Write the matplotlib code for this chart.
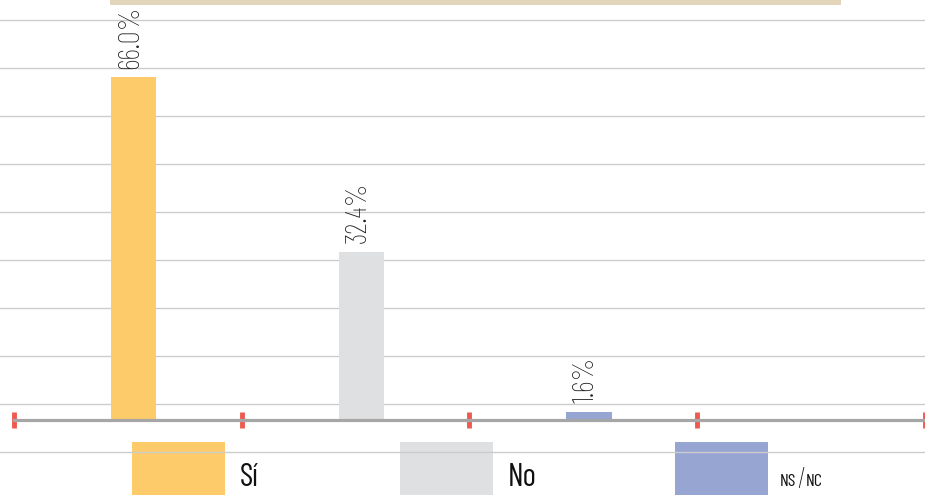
import matplotlib
matplotlib.use("Agg")
import matplotlib.pyplot as plt
from matplotlib.patches import Rectangle

categories = ["Sí", "No", "NS/NC"]
values = [66.0, 32.4, 1.6]
labels = ["66.0%", "32.4%", "1.6%"]
colors = ["#FDCB6A", "#DFE0E2", "#97A5D3"]

plt.rcParams['font.family'] = ['Barlow Condensed', 'DejaVu Sans']

W, H = 925, 495
fig = plt.figure(figsize=(W / 100, H / 100), dpi=100)

# background layer in pixel coordinates
bg = fig.add_axes([0, 0, 1, 1], zorder=0)
bg.set_xlim(0, W)
bg.set_ylim(H, 0)
bg.axis('off')
bg.add_patch(Rectangle((110, 0), 731, 5, color="#E2D5B9", lw=0))
for gy in [20, 68, 116, 164, 212, 260, 308, 356, 404, 452]:
    bg.axhline(gy, color="#CCCCCC", lw=1.0)

# legend drawn in pixel layer
leg_x = [132, 400, 675]
for i, cat in enumerate(categories):
    bg.add_patch(Rectangle((leg_x[i], 442), 93, 60, color=colors[i], lw=0))
    if cat == "NS/NC":
        a, b = cat.split("/")
        bg.text(leg_x[i] + 105, 486, a, fontsize=13, va='baseline', ha='left', color="#111111")
        bg.text(leg_x[i] + 122, 488, "/", fontsize=21, fontweight='light', va='baseline', ha='left', color="#111111")
        bg.text(leg_x[i] + 131, 486, b, fontsize=13, va='baseline', ha='left', color="#111111")
    else:
        bg.text(leg_x[i] + 108, 486, cat, fontsize=23, va='baseline', ha='left', color="#111111")

# main chart
ax = fig.add_axes([0, 0, 1, 1], zorder=1)
ax.patch.set_alpha(0)
px_per_unit = 343 / 66.0
base_px = 420
ax.set_ylim(-(H - base_px) / px_per_unit, base_px / px_per_unit)
band = 228
ax.set_xlim(-0.5 - 14 / band, 3.5)

xpos = [i + 0.025 for i in range(len(categories))]
bars = ax.bar(xpos, values, width=0.2, color=colors, zorder=2)
for b, lab in zip(bars, labels):
    ax.annotate(lab, (b.get_x() + b.get_width() / 2, b.get_height()),
                xytext=(-2, 6), textcoords='offset points',
                rotation=90, ha='center', va='bottom', fontsize=21,
                fontweight='light', color="#222222")

for s in ['top', 'left', 'right']:
    ax.spines[s].set_visible(False)
ax.spines['bottom'].set_position(('data', 0))
ax.spines['bottom'].set_bounds(-0.5, 3.5)
ax.spines['bottom'].set_color("#A6A6A6")
ax.spines['bottom'].set_linewidth(2.3)
ax.spines['bottom'].set_zorder(3)
ax.set_xticks([-0.5, 0.5, 1.5, 2.5, 3.5])
ax.set_xticklabels([])
ax.tick_params(axis='x', direction='inout', length=12, width=3.5, color="#EE5A4F")
ax.set_yticks([])

fig.savefig("out.png", dpi=100)
